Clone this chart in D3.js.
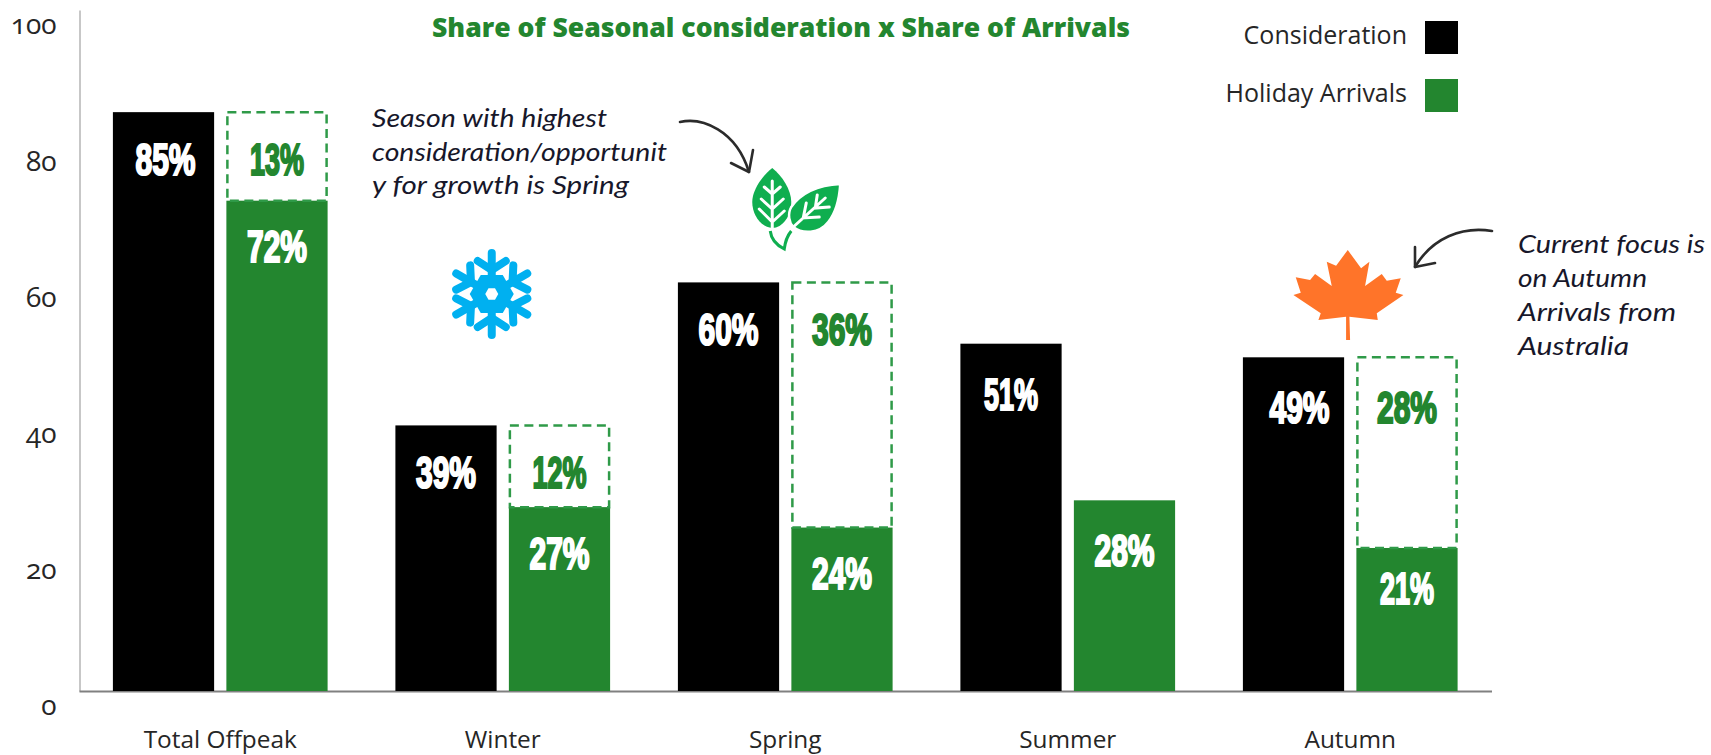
<!DOCTYPE html>
<html>
<head>
<meta charset="utf-8">
<script src="https://cdn.jsdelivr.net/npm/d3@7"></script>
<style>
  html, body { margin: 0; background: #fff; }
  svg { display: block; }
  text { font-family: "Open Sans", sans-serif; }
  .tick-num { font-variant-numeric: oldstyle-nums; font-feature-settings: "onum"; }
  .note { font-family: "Lato", sans-serif; font-style: italic; font-size: 26px; fill: #17172a; }
  .value { font-family: "Liberation Sans Narrow", "Liberation Sans", sans-serif; font-weight: 700; font-size: 44px; stroke-width: 2.2px; paint-order: stroke; }
</style>
</head>
<body>
<svg id="chart" width="1711" height="755"></svg>
<script>
// Chart data
const categories = ["Total Offpeak", "Winter", "Spring", "Summer", "Autumn"];
const seriesNames = ["Consideration", "Holiday Arrivals"];
const consideration = [85, 39, 60, 51, 49];
const arrivals = [72, 27, 24, 28, 21];
const arrivalGap = [13, 12, 36, null, 28];
const yTicks = [0, 20, 40, 60, 80, 100];

// Hand-placed adjustments for the value labels, in pixels
const considerationNudgeX = [2, 0, 0, 0, 6];
const considerationNudgeY = [0, 0, 0, 3, 3];
const arrivalNudgeY = [-2, -1, -2, 3, -7];
const gapNudgeY = [0, 0, 0, 0, 3];

const BLACK = "#000000", GREEN = "#23862f", DASH = "#2f9a48", INK = "#262626";

const svg = d3.select("#chart");
const baseline = 691, plotTop = 10;

const y = d3.scaleLinear().domain([0, 100]).range([baseline, plotTop]);
const x = d3.scaleBand().domain(categories).range([79, 1491.5]).paddingInner(0.24).paddingOuter(0.12);
const inner = d3.scaleBand().domain(seriesNames).range([0, x.bandwidth()]).paddingInner(0.108);

// Axes
const yAxis = svg.append("g").attr("transform", `translate(79.5,0)`)
  .call(d3.axisLeft(y).tickValues(yTicks).tickSize(0).tickPadding(23));
yAxis.select(".domain").attr("stroke", "#b5b5b5").attr("stroke-width", 1.5);
yAxis.selectAll("text").attr("class", "tick-num").attr("dy", "0.32em").attr("y", 15)
  .attr("font-size", 28).attr("fill", INK).style("font-family", '"Open Sans", sans-serif');

const xAxis = svg.append("g").attr("transform", `translate(0,${baseline})`)
  .call(d3.axisBottom(x).tickSize(0).tickPadding(40));
xAxis.select(".domain").attr("stroke", "#808080").attr("stroke-width", 2);
xAxis.selectAll("text").attr("font-size", 24.4).attr("fill", INK)
  .style("font-family", '"Open Sans", sans-serif');

// Bars
const groups = svg.selectAll(".group").data(categories).join("g")
  .attr("class", "group").attr("transform", d => `translate(${x(d)},0)`);

groups.append("rect")
  .attr("x", inner("Consideration")).attr("width", inner.bandwidth())
  .attr("y", (d, i) => y(consideration[i]))
  .attr("height", (d, i) => baseline - y(consideration[i]))
  .attr("fill", BLACK);

groups.append("rect")
  .attr("x", inner("Holiday Arrivals")).attr("width", inner.bandwidth())
  .attr("y", (d, i) => y(arrivals[i]))
  .attr("height", (d, i) => baseline - y(arrivals[i]))
  .attr("fill", GREEN);

// Dashed outline for the share of consideration not yet converted into arrivals
groups.filter((d, i) => arrivalGap[i] !== null).append("rect")
  .attr("x", inner("Holiday Arrivals") + 1).attr("width", inner.bandwidth() - 2)
  .attr("y", d => y(arrivals[categories.indexOf(d)] + arrivalGap[categories.indexOf(d)]))
  .attr("height", d => y(arrivals[categories.indexOf(d)]) - y(arrivals[categories.indexOf(d)] + arrivalGap[categories.indexOf(d)]))
  .attr("fill", "none").attr("stroke", DASH).attr("stroke-width", 2.5).attr("stroke-dasharray", "9 5.5");

// Value labels; figures containing a 1 set narrower in the display face
function valueLabel(sel, series, topValue, value, fill, dx, dy) {
  const at = d => categories.indexOf(d);
  sel.append("text").attr("class", "value")
    .attr("x", d => inner(series) + inner.bandwidth() / 2 + dx[at(d)])
    .attr("y", d => y(topValue(at(d))) + 63 + dy[at(d)])
    .attr("text-anchor", "middle")
    .attr("textLength", d => String(value(at(d))).includes("1") ? 54 : 60)
    .attr("lengthAdjust", "spacingAndGlyphs")
    .attr("fill", fill).attr("stroke", fill)
    .text(d => value(at(d)) + "%");
}
const noShift = categories.map(() => 0);
valueLabel(groups, "Consideration", i => consideration[i], i => consideration[i], "#fff", considerationNudgeX, considerationNudgeY);
valueLabel(groups, "Holiday Arrivals", i => arrivals[i], i => arrivals[i], "#fff", noShift, arrivalNudgeY);
valueLabel(groups.filter((d, i) => arrivalGap[i] !== null), "Holiday Arrivals",
  i => arrivals[i] + arrivalGap[i], i => arrivalGap[i], GREEN, noShift, gapNudgeY);

// Title
svg.append("text").attr("x", 781).attr("y", 37).attr("text-anchor", "middle")
  .attr("font-size", 27).attr("font-weight", 800).attr("fill", GREEN)
  .attr("textLength", 698).attr("lengthAdjust", "spacingAndGlyphs")
  .text("Share of Seasonal consideration x Share of Arrivals");

// Legend
const legend = svg.selectAll(".legend").data(seriesNames).join("g")
  .attr("class", "legend").attr("transform", (d, i) => `translate(1425,${21 + i * 58})`);
legend.append("rect").attr("width", 33).attr("height", 33).attr("fill", (d, i) => i ? GREEN : BLACK);
legend.append("text").attr("x", -18).attr("y", 23).attr("text-anchor", "end")
  .attr("font-size", 25).attr("fill", INK).text(d => d);

// Handwritten notes
const noteLeft = ["Season with highest", "consideration/opportunit", "y for growth is Spring"];
const noteLeftWidths = [235, 295, 257];
const noteRight = ["Current focus is", "on Autumn", "Arrivals from", "Australia"];
const noteRightWidths = [187, 129, 158, 111];
svg.selectAll(".noteL").data(noteLeft).join("text").attr("class", "note")
  .attr("x", 372).attr("y", (d, i) => 127 + i * 33.5)
  .attr("textLength", (d, i) => noteLeftWidths[i]).attr("lengthAdjust", "spacingAndGlyphs").text(d => d);
svg.selectAll(".noteR").data(noteRight).join("text").attr("class", "note")
  .attr("x", 1518).attr("y", (d, i) => 253 + i * 34)
  .attr("textLength", (d, i) => noteRightWidths[i]).attr("lengthAdjust", "spacingAndGlyphs").text(d => d);

// Sketched arrows pointing at the season icons
const arrow = svg.append("g").attr("fill", "none").attr("stroke", "#2b2b2b")
  .attr("stroke-width", 2.6).attr("stroke-linecap", "round").attr("stroke-linejoin", "round");
arrow.append("path").attr("d", "M680,122 C702,117 736,130 749,172");
arrow.append("path").attr("d", "M731,163 L749,172 L753,150");
arrow.append("path").attr("d", "M1492,231 C1462,226 1432,238 1415,267");
arrow.append("path").attr("d", "M1415,247 L1415,267 L1435,263");

// Snowflake icon
const flake = svg.append("g").attr("transform", `translate(${x("Winter") + x.bandwidth() / 2 - 11},294)`);
const armAngles = d3.range(0, 360, 60);
const arms = flake.selectAll("g").data(armAngles).join("g").attr("transform", d => `rotate(${d})`)
  .attr("fill", "none").attr("stroke", "#00b0f0").attr("stroke-width", 8).attr("stroke-linecap", "round");
arms.append("path").attr("d", "M0,-10 L0,-41");
arms.append("path").attr("d", "M-14,-33 L0,-24 L14,-33");
const hexagon = r => d3.range(6).map(k => {
  const a = (k * 60 + 30) * Math.PI / 180;
  return (k ? "L" : "M") + (r * Math.sin(a)) + "," + (-r * Math.cos(a));
}).join("") + "Z";
flake.append("path").attr("fill", "#00b0f0").attr("d", hexagon(22));
flake.append("path").attr("fill", "#fff").attr("d", hexagon(6.5));

// Twin-leaf icon
const leaf = svg.append("g").attr("transform", `translate(${x("Spring") + x.bandwidth() / 2 - 13},198)`);
const LEAF = "#0fae4f";
leaf.append("path").attr("fill", LEAF)
  .attr("d", "M0,-30 C10,-22 19,-8 19,4 C19,18 10,30 0,30 C-10,30 -20,18 -20,4 C-20,-8 -10,-22 0,-30Z");
leaf.append("path").attr("fill", "none").attr("stroke", "#fff").attr("stroke-width", 3).attr("stroke-linecap", "round")
  .attr("d", "M0,-17 L0,30 M-8,-11 L0,-4 L8,-11 M-11,1 L0,11 L11,1 M-13,11 L0,24 L12,13");
leaf.append("path").attr("fill", LEAF).attr("stroke", "#fff").attr("stroke-width", 2.5)
  .attr("d", "M68,-14 C50,-13 30,-7 19,9 C15,16 17,25 21,29 C30,36 47,36 56,24 C64,14 67,2 68,-14Z");
leaf.append("path").attr("fill", "none").attr("stroke", "#fff").attr("stroke-width", 3).attr("stroke-linecap", "round")
  .attr("d", "M53,0 L21,29 M45,-3 L43,10 L57,9 M34,5 L31,20 L47,19");
leaf.append("path").attr("fill", "none").attr("stroke", LEAF).attr("stroke-width", 3)
  .attr("d", "M-2,33 C-1,42 6,48 12,51 C13,44 14,39 19,33");

// Maple-leaf icon, outline drawn at three times its final size
const maple = [[0,-135],[40,-80],[65,-100],[52,-27],[102,-63],[117,-43],[159,-50],[144,-7],[167,0],[87,55],[90,75],[5,65],[7,135],[-5,135],[-5,65],[-88,75],[-81,55],[-163,0],[-141,-7],[-156,-53],[-113,-45],[-98,-63],[-48,-27],[-63,-100],[-35,-88]];
svg.append("path")
  .attr("transform", `translate(${x("Autumn") + x.bandwidth() / 2 - 2.5},295) scale(${1 / 3})`)
  .attr("fill", "#ff7429")
  .attr("d", d3.line()(maple) + "Z");
</script>
</body>
</html>
